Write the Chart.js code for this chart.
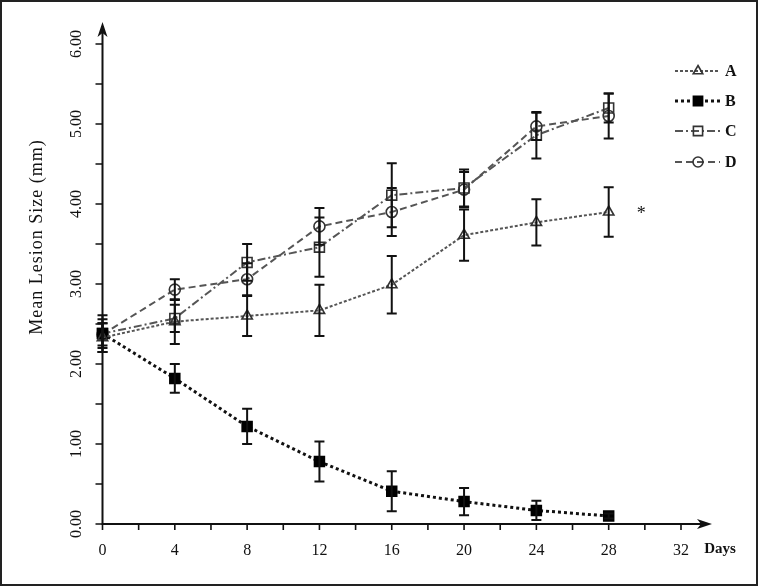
<!DOCTYPE html>
<html>
<head>
<meta charset="utf-8">
<script src="https://cdn.jsdelivr.net/npm/chart.js@4.4.1/dist/chart.umd.min.js"></script>
<style>
html,body{margin:0;padding:0;background:#fff;}
canvas{display:block;}
</style>
</head>
<body>
<canvas id="c" width="758" height="586"></canvas>
<script>
// ---- data ----
const days = [0, 4, 8, 12, 16, 20, 24, 28];
const seriesNames = ['A', 'B', 'C', 'D'];
const valuesA = [2.33, 2.53, 2.60, 2.67, 2.99, 3.61, 3.77, 3.90];
const errorsA = [0.18, 0.28, 0.25, 0.32, 0.36, 0.32, 0.29, 0.31];
const valuesB = [2.38, 1.82, 1.22, 0.78, 0.41, 0.28, 0.17, 0.10];
const errorsB = [0.18, 0.18, 0.22, 0.25, 0.25, 0.17, 0.12, 0.03];
const valuesC = [2.38, 2.57, 3.27, 3.46, 4.11, 4.20, 4.86, 5.20];
const errorsC = [0.23, 0.17, 0.23, 0.37, 0.40, 0.23, 0.29, 0.18];
const valuesD = [2.37, 2.93, 3.06, 3.72, 3.90, 4.18, 4.97, 5.10];
const errorsD = [0.14, 0.13, 0.20, 0.23, 0.30, 0.22, 0.17, 0.28];

const xTickValues = [0, 4, 8, 12, 16, 20, 24, 28, 32];
const xTickLabels = ['0', '4', '8', '12', '16', '20', '24', '28', '32'];
const xMinorTicks = [2, 6, 10, 14, 18, 22, 26, 30];
const yTickValues = [0, 1, 2, 3, 4, 5, 6];
const yTickLabels = ['0.00', '1.00', '2.00', '3.00', '4.00', '5.00', '6.00'];
const yMinorTicks = [0.5, 1.5, 2.5, 3.5, 4.5, 5.5];
const xAxisTitle = 'Days';
const yAxisTitle = 'Mean Lesion Size (mm)';
const noteText = '*';
const noteDay = 29.8;
const noteSeriesIndex = 0;

// ---- styles ----
const styles = [
  {color: '#555', width: 2, dash: [3, 2], point: 'triangle', radius: 6, fill: 'rgba(255,255,255,0)', pborder: '#333'},
  {color: '#111', width: 3, dash: [3, 3], point: 'rect', radius: 7, fill: '#000', pborder: '#000'},
  {color: '#555', width: 2, dash: [8, 3, 2, 3], point: 'rect', radius: 7, fill: 'rgba(255,255,255,0)', pborder: '#333'},
  {color: '#555', width: 2, dash: [7, 4], point: 'circle', radius: 5.5, fill: 'rgba(255,255,255,0)', pborder: '#333'}
];
const allValues = [valuesA, valuesB, valuesC, valuesD];
const allErrors = [errorsA, errorsB, errorsC, errorsD];

const datasets = seriesNames.map((name, i) => ({
  label: name,
  data: days.map((d, j) => ({x: d, y: allValues[i][j]})),
  borderColor: styles[i].color,
  borderWidth: styles[i].width,
  borderDash: styles[i].dash,
  pointStyle: styles[i].point,
  pointRadius: styles[i].radius,
  pointBackgroundColor: styles[i].fill,
  pointBorderColor: styles[i].pborder,
  pointBorderWidth: 1.6,
  tension: 0,
  fill: false,
  clip: false
}));

const FONT = '"Liberation Serif", "Times New Roman", serif';

function drawMarker(ctx, st, x, y) {
  ctx.save();
  ctx.setLineDash([]);
  ctx.lineWidth = 1.6;
  ctx.strokeStyle = st.pborder;
  ctx.fillStyle = st.fill;
  const r = st.radius;
  ctx.beginPath();
  if (st.point === 'rect') {
    const s = r * Math.SQRT1_2;
    ctx.rect(x - s, y - s, 2 * s, 2 * s);
  } else if (st.point === 'circle') {
    ctx.arc(x, y, r, 0, Math.PI * 2);
  } else {
    ctx.moveTo(x, y - r);
    ctx.lineTo(x + r * 0.866, y + r * 0.5);
    ctx.lineTo(x - r * 0.866, y + r * 0.5);
    ctx.closePath();
  }
  ctx.fill();
  ctx.stroke();
  ctx.restore();
}

const decorPlugin = {
  id: 'decor',
  beforeDatasetsDraw(chart) {
    const ctx = chart.ctx;
    const xs = chart.scales.x, ys = chart.scales.y;
    const x0 = xs.getPixelForValue(0), y0 = ys.getPixelForValue(0);
    ctx.save();
    // frame
    ctx.strokeStyle = '#222';
    ctx.lineWidth = 2;
    ctx.strokeRect(1, 1, chart.width - 2, chart.height - 2);
    // axes
    ctx.strokeStyle = '#111';
    ctx.fillStyle = '#111';
    ctx.lineWidth = 2;
    const yTip = 22, xTip = 712;
    ctx.beginPath();
    ctx.moveTo(x0, y0 + 1); ctx.lineTo(x0, yTip + 4);
    ctx.moveTo(x0 - 1, y0); ctx.lineTo(xTip - 4, y0);
    ctx.stroke();
    // arrowheads
    ctx.beginPath();
    ctx.moveTo(x0, yTip);
    ctx.lineTo(x0 + 5, yTip + 15);
    ctx.lineTo(x0, yTip + 11);
    ctx.lineTo(x0 - 5, yTip + 15);
    ctx.closePath();
    ctx.fill();
    ctx.beginPath();
    ctx.moveTo(xTip, y0);
    ctx.lineTo(xTip - 15, y0 - 5);
    ctx.lineTo(xTip - 11, y0);
    ctx.lineTo(xTip - 15, y0 + 5);
    ctx.closePath();
    ctx.fill();
    // ticks
    ctx.lineWidth = 1.6;
    ctx.beginPath();
    yTickValues.concat(yMinorTicks).forEach(v => {
      const py = ys.getPixelForValue(v);
      ctx.moveTo(x0 - 7, py); ctx.lineTo(x0, py);
    });
    xTickValues.concat(xMinorTicks).forEach(v => {
      const px = xs.getPixelForValue(v);
      ctx.moveTo(px, y0); ctx.lineTo(px, y0 + 6);
    });
    ctx.stroke();
    // tick labels
    ctx.fillStyle = '#111';
    ctx.font = '16px ' + FONT;
    ctx.textAlign = 'center';
    ctx.textBaseline = 'middle';
    xTickValues.forEach((v, i) => {
      ctx.fillText(xTickLabels[i], xs.getPixelForValue(v), 551);
    });
    yTickValues.forEach((v, i) => {
      ctx.save();
      ctx.translate(77, ys.getPixelForValue(v));
      ctx.rotate(-Math.PI / 2);
      ctx.fillText(yTickLabels[i], 0, 0);
      ctx.restore();
    });
    // axis titles
    ctx.font = 'bold 15px ' + FONT;
    ctx.fillText(xAxisTitle, 720, 549);
    ctx.save();
    ctx.font = '18px ' + FONT;
    try { ctx.letterSpacing = '1px'; } catch (e) {}
    ctx.translate(37, 237);
    ctx.rotate(-Math.PI / 2);
    ctx.fillText(yAxisTitle, 0, 0);
    ctx.restore();
    ctx.restore();
  },
  afterDatasetsDraw(chart) {
    const ctx = chart.ctx;
    const xs = chart.scales.x, ys = chart.scales.y;
    ctx.save();
    // error bars
    ctx.strokeStyle = '#111';
    ctx.lineWidth = 2;
    ctx.setLineDash([]);
    allValues.forEach((vals, i) => {
      vals.forEach((v, j) => {
        const px = xs.getPixelForValue(days[j]);
        const pt = ys.getPixelForValue(v + allErrors[i][j]);
        const pb = ys.getPixelForValue(v - allErrors[i][j]);
        ctx.beginPath();
        ctx.moveTo(px, pt); ctx.lineTo(px, pb);
        ctx.moveTo(px - 5, pt); ctx.lineTo(px + 5, pt);
        ctx.moveTo(px - 5, pb); ctx.lineTo(px + 5, pb);
        ctx.stroke();
      });
    });
    // significance note
    ctx.fillStyle = '#111';
    ctx.font = '18px ' + FONT;
    ctx.textAlign = 'center';
    ctx.textBaseline = 'middle';
    const nv = allValues[noteSeriesIndex];
    ctx.fillText(noteText, xs.getPixelForValue(noteDay), ys.getPixelForValue(nv[nv.length - 1]) + 2);
    // legend
    const rows = [71, 101, 131, 162];
    seriesNames.forEach((name, i) => {
      const st = styles[i];
      const y = rows[i];
      ctx.save();
      ctx.strokeStyle = st.color;
      ctx.lineWidth = st.width;
      ctx.setLineDash(st.dash);
      ctx.beginPath();
      ctx.moveTo(675, y); ctx.lineTo(720, y);
      ctx.stroke();
      ctx.restore();
      drawMarker(ctx, Object.assign({}, st, {radius: st.radius - 0.5}), 698, y);
      ctx.fillStyle = '#111';
      ctx.font = 'bold 16px ' + FONT;
      ctx.textAlign = 'left';
      ctx.fillText(name, 725, y + 1);
    });
    ctx.restore();
  }
};

new Chart(document.getElementById('c'), {
  type: 'line',
  data: {datasets: datasets},
  options: {
    responsive: false,
    animation: false,
    devicePixelRatio: 1,
    layout: {padding: {left: 102.5, right: 77, top: 44, bottom: 62}},
    scales: {
      x: {type: 'linear', min: 0, max: 32, display: false},
      y: {type: 'linear', min: 0, max: 6, display: false}
    },
    plugins: {legend: {display: false}, tooltip: {enabled: false}}
  },
  plugins: [decorPlugin]
});
</script>
</body>
</html>
